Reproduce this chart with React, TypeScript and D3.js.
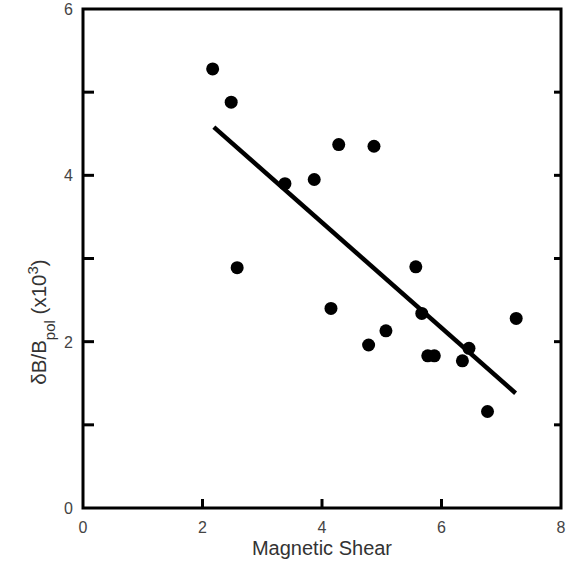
import React from "react";
import * as d3 from "d3";

const shearValues = [2.17, 2.48, 2.58, 3.38, 3.87, 4.28, 4.87, 4.15, 4.78, 5.07, 5.57, 5.67, 5.77, 5.88, 6.35, 6.46, 6.77, 7.25];
const dbValues = [5.28, 4.88, 2.89, 3.90, 3.95, 4.37, 4.35, 2.40, 1.96, 2.13, 2.90, 2.34, 1.83, 1.83, 1.77, 1.92, 1.16, 2.28];
const fitX = [2.19, 7.24];
const fitY = [4.58, 1.38];
const xTicks = [0, 2, 4, 6, 8];
const yTicks = [0, 1, 2, 3, 4, 5, 6];
const yLabelTicks = [0, 2, 4, 6];

export default function App() {
  const W = 574, H = 561;
  const left = 83, right = 561, top = 9, bottom = 508;
  const x = d3.scaleLinear().domain([0, 8]).range([left, right]);
  const y = d3.scaleLinear().domain([0, 6]).range([bottom, top]);
  const line = d3.line<number>().x((_, i) => x(fitX[i])).y((d) => y(d));
  const font = "'Liberation Sans', Arial, Helvetica, sans-serif";
  const tickColor = "#444";
  return (
    <svg width={W} height={H} style={{ position: "absolute", left: 0, top: 0, background: "#fff" }} fontFamily={font}>
      <rect x={left} y={top} width={right - left} height={bottom - top} fill="none" stroke="#000" strokeWidth={3} />
      {xTicks.slice(1, -1).map((t) => (
        <line key={"xt" + t} x1={x(t)} x2={x(t)} y1={bottom} y2={bottom - 9} stroke="#000" strokeWidth={3} />
      ))}
      {yTicks.slice(1, -1).map((t) => (
        <g key={"yt" + t}>
          <line x1={left} x2={left + 11} y1={y(t)} y2={y(t)} stroke="#000" strokeWidth={3} />
          <line x1={right} x2={right - 7} y1={y(t)} y2={y(t)} stroke="#000" strokeWidth={3} />
        </g>
      ))}
      {xTicks.map((t) => (
        <text key={"xl" + t} x={x(t)} y={bottom + 25} textAnchor="middle" fontSize={16} fill={tickColor}>{t}</text>
      ))}
      {yLabelTicks.map((t) => (
        <text key={"yl" + t} x={left - 10} y={y(t) + 6} textAnchor="end" fontSize={16} fill={tickColor}>{t}</text>
      ))}
      <text x={(left + right) / 2} y={555} textAnchor="middle" fontSize={20} fill="#333">Magnetic Shear</text>
      <text transform={`translate(46, ${322}) rotate(-90)`} textAnchor="middle" fontSize={20.5} fill="#333">
        δB/B<tspan baselineShift="sub" fontSize={15}>pol</tspan><tspan> (x10</tspan><tspan baselineShift="super" fontSize={15}>3</tspan><tspan>)</tspan>
      </text>
      <path d={line(fitY) || ""} fill="none" stroke="#000" strokeWidth={4.5} />
      {shearValues.map((s, i) => (
        <circle key={"p" + i} cx={x(s)} cy={y(dbValues[i])} r={6.5} fill="#000" />
      ))}
    </svg>
  );
}
